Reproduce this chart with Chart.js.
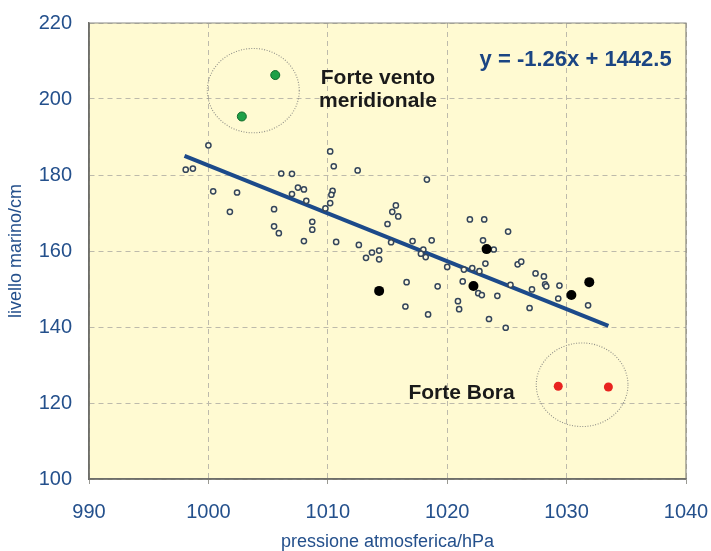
<!DOCTYPE html>
<html>
<head>
<meta charset="utf-8">
<script src="https://cdn.jsdelivr.net/npm/chart.js@4/dist/chart.umd.min.js"></script>
<style>
  html, body { margin: 0; padding: 0; background: #ffffff; }
  #wrap { width: 711px; height: 551px; position: relative; }
</style>
</head>
<body>
<div id="wrap"><canvas id="c" width="711" height="551"></canvas></div>
<script>
// Daily readings: atmospheric pressure (hPa) and sea level (cm)
const pressure = [
  1000.0, 998.1, 998.7, 1000.4, 1002.4, 1001.8, 1006.1, 1007.0, 1007.5, 1008.0,
  1007.0, 1008.2, 1005.5, 1005.5, 1005.9, 1008.7, 1008.7, 1008.0, 1010.2, 1010.5,
  1012.5, 1010.4, 1010.3, 1010.2, 1009.8, 1010.7, 1012.6, 1013.2, 1018.3, 1013.7,
  1014.3, 1014.3, 1015.7, 1015.4, 1015.9, 1015.0, 1015.3, 1017.1, 1018.7, 1018.0,
  1017.8, 1018.2, 1020.0, 1016.6, 1019.2, 1016.5, 1018.4, 1021.9, 1023.1, 1023.0,
  1023.9, 1023.2, 1021.4, 1022.1, 1022.7, 1021.3, 1022.6, 1022.9, 1024.2, 1020.9,
  1021.0, 1023.5, 1025.1, 1024.9, 1025.9, 1026.2, 1025.3, 1027.4, 1028.1, 1028.2,
  1028.3, 1027.1, 1026.9, 1029.4, 1029.3, 1031.8
];
const seaLevel = [
  187.8, 181.4, 181.7, 175.7, 175.4, 170.3, 180.4, 180.3, 176.7, 176.2,
  175.0, 173.2, 171.0, 166.5, 164.7, 167.7, 165.6, 162.6, 186.2, 182.3,
  181.2, 175.8, 174.8, 172.6, 171.2, 162.4, 161.6, 158.2, 178.8, 159.6,
  160.1, 157.8, 172.0, 170.3, 169.1, 167.1, 162.3, 162.6, 162.8, 160.4,
  159.3, 158.4, 155.8, 151.8, 150.7, 145.4, 143.3, 168.3, 168.3, 162.8,
  160.4, 156.7, 155.1, 155.5, 154.7, 152.0, 148.9, 148.4, 148.2, 146.8,
  144.7, 142.1, 165.1, 139.8, 156.5, 157.2, 151.1, 154.1, 153.3, 151.2,
  150.7, 149.9, 145.0, 150.9, 147.5, 145.7
];

// Highlighted days
const markedPressure = [1014.3, 1023.3, 1022.2, 1030.4, 1031.9];
const markedLevel    = [149.5, 160.5, 150.8, 148.4, 151.8];

// Strong southerly wind days
const southWindPressure = [1005.6, 1002.8];
const southWindLevel    = [206.3, 195.4];

// Strong Bora days
const boraPressure = [1029.3, 1033.5];
const boraLevel    = [124.4, 124.2];

// Linear fit
const fitSlope = -1.26;
const fitIntercept = 1442.5;
const fitRange = [998, 1033.5];

// Axis ticks
const xTicks = [990, 1000, 1010, 1020, 1030, 1040];
const yTicks = [100, 120, 140, 160, 180, 200, 220];

// Group outlines: centre (hPa, cm) and half-extent (hPa, cm)
const groupCentreX = [1003.76, 1031.3];
const groupCentreY = [202.2, 124.8];
const groupHalfX   = [3.85, 3.84];
const groupHalfY   = [11.1, 11.0];

// Text notes placed in data coordinates
const noteText  = ['Forte vento', 'meridionale', 'Forte Bora'];
const noteX     = [1014.2, 1014.2, 1021.2];
const noteY     = [205.6, 199.4, 122.6];
const equationText = 'y = ' + fitSlope.toFixed(2) + 'x + ' + fitIntercept.toFixed(1);
const equationX = 1038.8;
const equationY = 210.2;

const zip = (xs, ys) => xs.map((x, i) => ({ x: x, y: ys[i] }));
const fitLine = fitRange.map(x => ({ x: x, y: fitSlope * x + fitIntercept }));

const FONT = "'Liberation Sans', Arial, sans-serif";
const TICK_BLUE = '#24508c';
const NAVY = '#1b4583';
const GRID = '#bdbaab';

const plotFrame = {
  id: 'plotFrame',
  beforeDraw(chart) {
    const { ctx, chartArea: a } = chart;
    ctx.save();
    ctx.fillStyle = '#fffad2';
    ctx.fillRect(a.left, a.top, a.right - a.left, a.bottom - a.top);
    ctx.restore();
  },
  afterDraw(chart) {
    const { ctx, chartArea: a } = chart;
    ctx.save();
    ctx.setLineDash([]);
    // top and right edges
    ctx.strokeStyle = '#8a8a84';
    ctx.lineWidth = 1.2;
    ctx.beginPath();
    ctx.moveTo(a.left, a.top);
    ctx.lineTo(a.right, a.top);
    ctx.lineTo(a.right, a.bottom);
    ctx.stroke();
    // left and bottom axis lines
    ctx.strokeStyle = '#6f6f6a';
    ctx.lineWidth = 1.5;
    ctx.beginPath();
    ctx.moveTo(a.left, a.top);
    ctx.lineTo(a.left, a.bottom);
    ctx.lineTo(a.right, a.bottom);
    ctx.stroke();
    ctx.restore();
  }
};

const notes = {
  id: 'notes',
  afterDatasetsDraw(chart) {
    const { ctx, scales: { x, y } } = chart;
    ctx.save();
    // dotted outlines around the wind groups
    ctx.strokeStyle = '#8f8f88';
    ctx.lineWidth = 1.1;
    ctx.setLineDash([1, 1.6]);
    for (let i = 0; i < groupCentreX.length; i++) {
      const cx = x.getPixelForValue(groupCentreX[i]);
      const cy = y.getPixelForValue(groupCentreY[i]);
      const rx = Math.abs(x.getPixelForValue(groupCentreX[i] + groupHalfX[i]) - cx);
      const ry = Math.abs(y.getPixelForValue(groupCentreY[i] + groupHalfY[i]) - cy);
      ctx.beginPath();
      ctx.ellipse(cx, cy, rx, ry, 0, 0, Math.PI * 2);
      ctx.stroke();
    }
    ctx.setLineDash([]);
    ctx.textAlign = 'center';
    ctx.textBaseline = 'middle';
    ctx.fillStyle = '#1a1a1a';
    ctx.font = 'bold 21px ' + FONT;
    for (let i = 0; i < noteText.length; i++) {
      ctx.fillText(noteText[i], x.getPixelForValue(noteX[i]), y.getPixelForValue(noteY[i]));
    }
    ctx.fillStyle = NAVY;
    ctx.font = 'bold 22px ' + FONT;
    ctx.textAlign = 'right';
    ctx.fillText(equationText, x.getPixelForValue(equationX), y.getPixelForValue(equationY));
    ctx.restore();
  }
};

new Chart(document.getElementById('c'), {
  type: 'scatter',
  data: {
    datasets: [
      {
        label: 'fit',
        type: 'line',
        data: fitLine,
        borderColor: '#1c4a8a',
        borderWidth: 4,
        pointRadius: 0,
        fill: false,
        order: 2
      },
      {
        label: 'days',
        data: zip(pressure, seaLevel),
        pointRadius: 2.6,
        pointBorderWidth: 1.5,
        pointBackgroundColor: '#fffbe0',
        pointBorderColor: '#34455a',
        order: 1
      },
      {
        label: 'marked',
        data: zip(markedPressure, markedLevel),
        pointRadius: 5,
        pointBorderWidth: 0,
        pointBackgroundColor: '#000000',
        order: 0
      },
      {
        label: 'scirocco',
        data: zip(southWindPressure, southWindLevel),
        pointRadius: 4.5,
        pointBorderWidth: 1,
        pointBackgroundColor: '#1fa046',
        pointBorderColor: '#136b2c',
        order: 0
      },
      {
        label: 'bora',
        data: zip(boraPressure, boraLevel),
        pointRadius: 4.5,
        pointBorderWidth: 0,
        pointBackgroundColor: '#e8231f',
        order: 0
      }
    ]
  },
  options: {
    responsive: false,
    animation: false,
    devicePixelRatio: 1,
    layout: { padding: { top: 23, right: 25, left: 0, bottom: 0 } },
    plugins: {
      legend: { display: false },
      tooltip: { enabled: false }
    },
    scales: {
      x: {
        type: 'linear',
        min: xTicks[0],
        max: xTicks[xTicks.length - 1],
        afterBuildTicks(s) { s.ticks = xTicks.map(v => ({ value: v })); },
        afterFit(s) { s.height = 72; s.paddingLeft = 0; s.paddingRight = 0; },
        grid: {
          color: GRID,
          lineWidth: 1,
          tickLength: 5,
          tickColor: '#9a9a94'
        },
        border: { display: true, color: '#6f6f6a', width: 1.5, dash: [5, 4] },
        ticks: {
          color: TICK_BLUE,
          font: { family: FONT, size: 20 },
          padding: 16,
          maxRotation: 0,
          callback: v => String(v)
        },
        title: {
          display: true,
          text: 'pressione atmosferica/hPa',
          color: TICK_BLUE,
          font: { family: FONT, size: 18, lineHeight: 1 },
          padding: { top: 0, bottom: 0 }
        }
      },
      y: {
        type: 'linear',
        min: yTicks[0],
        max: yTicks[yTicks.length - 1],
        afterBuildTicks(s) { s.ticks = yTicks.map(v => ({ value: v })); },
        afterFit(s) { s.width = 89; s.paddingTop = 0; s.paddingBottom = 0; },
        grid: {
          color: GRID,
          lineWidth: 1,
          drawTicks: false
        },
        border: { display: true, color: '#6f6f6a', width: 1.5, dash: [5, 4] },
        ticks: {
          color: TICK_BLUE,
          font: { family: FONT, size: 20 },
          padding: 17,
          callback: v => String(v)
        },
        title: {
          display: true,
          text: 'livello marino/cm',
          color: TICK_BLUE,
          font: { family: FONT, size: 18, lineHeight: 1 },
          padding: { top: 7, bottom: 0 }
        }
      }
    }
  },
  plugins: [plotFrame, notes]
});
</script>
</body>
</html>
